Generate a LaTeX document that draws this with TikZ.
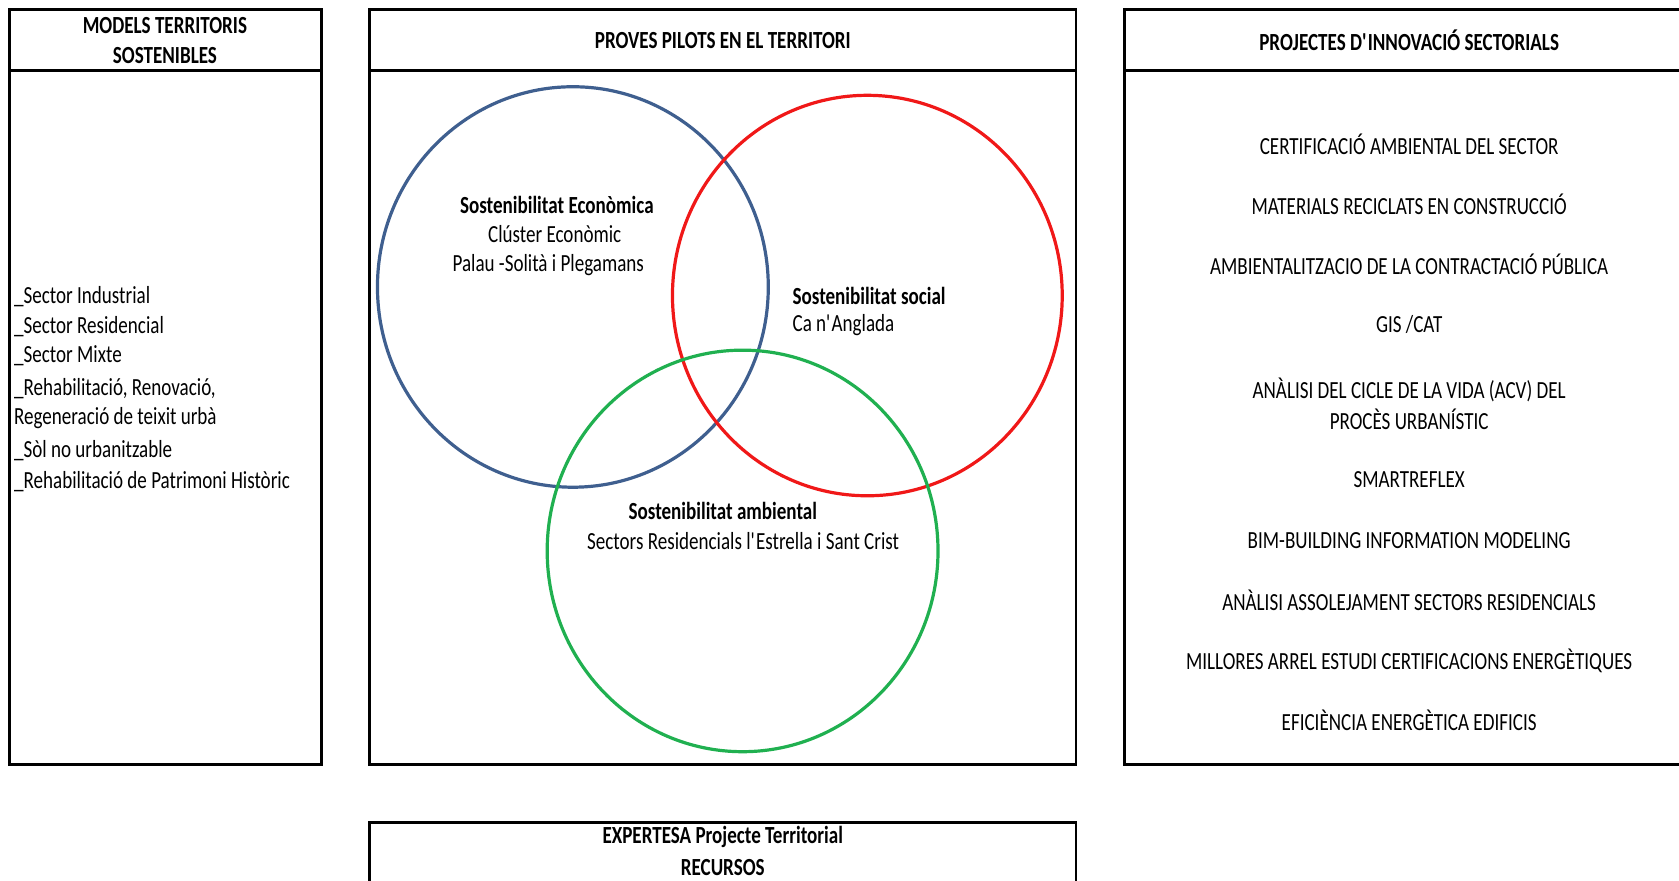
\documentclass[tikz,border=0pt]{standalone}
\usepackage{fontspec}
\setmainfont{Carlito}[FakeStretch=0.775]
\definecolor{cblue}{HTML}{3F5F8F}
\definecolor{cred}{HTML}{F01818}
\definecolor{cgreen}{HTML}{20B050}
\tikzset{
  frame/.style={draw=black, line width=2.6pt},
  txt/.style={inner sep=0pt, font=\fontsize{24.6}{30}\selectfont},
  btxt/.style={txt, font=\fontsize{24.6}{30}\selectfont\bfseries},
  ring/.style={line width=3.2pt},
}
\begin{document}
\begin{tikzpicture}[x=1.0708pt,y=-1.0708pt]
\useasboundingbox (0,0) rectangle (1568,822);
\begin{scope}
\clip (0,0) rectangle (1568,822);
% left box
\draw[frame] (9,9) rectangle (300,714);
\draw[frame] (9,66) -- (300,66);
% middle box
\draw[frame] (345,9) rectangle (1005,714);
\draw[frame] (345,66) -- (1005,66);
% right box
\draw[frame] (1050,9) rectangle (1620,714);
\draw[frame] (1050,66) -- (1620,66);
% bottom box
\draw[frame] (345,768) rectangle (1005,860);
\end{scope}

% headers
\node[btxt] (h1a) at (154,24) {MODELS TERRITORIS};
\node[btxt] (h1b) at (154,52) {SOSTENIBLES};
\node[btxt] (h2) at (675,38) {PROVES PILOTS EN EL TERRITORI};
\node[btxt] (h3) at (1316,38) {PROJECTES D\textquotesingle INNOVACIÓ SECTORIALS};
\node[btxt] (h4a) at (675,782) {EXPERTESA Projecte Territorial};
\node[btxt] (h4b) at (675,810) {RECURSOS};

% left list
\node[txt, anchor=west] (l1) at (13,277) {\_Sector Industrial};
\node[txt, anchor=west] (l2) at (13,305) {\_Sector Residencial};
\node[txt, anchor=west] (l3) at (13,332) {\_Sector Mixte};
\node[txt, anchor=west] (l4) at (13,363) {\_Rehabilitació, Renovació,};
\node[txt, anchor=west] (l5) at (13,390) {Regeneració de teixit urbà};
\node[txt, anchor=west] (l6) at (13,421) {\_Sòl no urbanitzable};
\node[txt, anchor=west] (l7) at (13,450) {\_Rehabilitació de Patrimoni Històric};

% circles
\draw[ring, draw=cblue] (535,268) ellipse [x radius=182.5, y radius=187];
\draw[ring, draw=cred] (810,276) ellipse [x radius=182, y radius=187];
\draw[ring, draw=cgreen] (693.5,514.5) ellipse [x radius=182.5, y radius=187.5];

% circle texts
\node[btxt] (e1) at (520,191) {Sostenibilitat Econòmica};
\node[txt] (e2) at (518,219) {Clúster Econòmic};
\node[txt] (e3) at (512,248) {Palau -Solità i Plegamans};
\node[btxt, anchor=west] (s1) at (740,276) {Sostenibilitat social};
\node[txt, anchor=west] (s2) at (740,304) {Ca n\textquotesingle Anglada};
\node[btxt] (a1) at (675,477) {Sostenibilitat ambiental};
\node[txt] (a2) at (694,505) {Sectors Residencials l\textquotesingle Estrella i Sant Crist};

% right list
\node[txt] (r1) at (1316,135) {CERTIFICACIÓ AMBIENTAL DEL SECTOR};
\node[txt] (r2) at (1316,191) {MATERIALS RECICLATS EN CONSTRUCCIÓ};
\node[txt] (r3) at (1316,247) {AMBIENTALITZACIO DE LA CONTRACTACIÓ PÚBLICA};
\node[txt] (r4) at (1316,303) {GIS /CAT};
\node[txt] (r5) at (1316,364) {ANÀLISI DEL CICLE DE LA VIDA (ACV) DEL};
\node[txt] (r6) at (1316,392) {PROCÈS URBANÍSTIC};
\node[txt] (r7) at (1316,448) {SMARTREFLEX};
\node[txt] (r8) at (1316,505) {BIM-BUILDING INFORMATION MODELING};
\node[txt] (r9) at (1316,561) {ANÀLISI ASSOLEJAMENT SECTORS RESIDENCIALS};
\node[txt] (r10) at (1316,617) {MILLORES ARREL ESTUDI CERTIFICACIONS ENERGÈTIQUES};
\node[txt] (r11) at (1316,673) {EFICIÈNCIA ENERGÈTICA EDIFICIS};
\end{tikzpicture}
\end{document}
